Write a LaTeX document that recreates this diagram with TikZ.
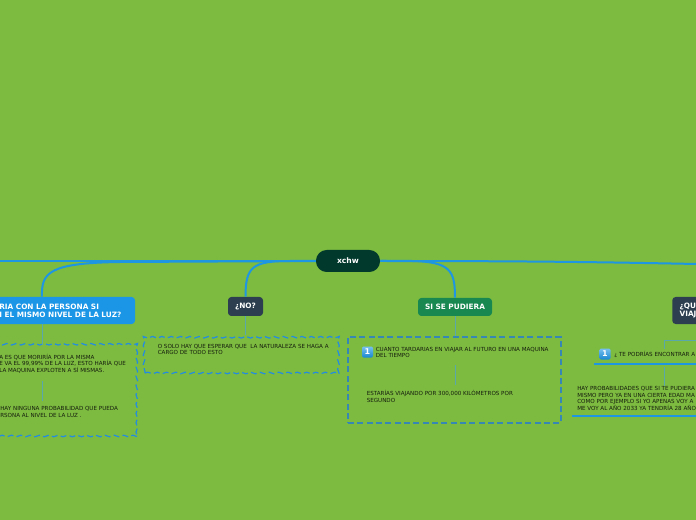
\documentclass[tikz,border=0pt]{standalone}
\usepackage{fontspec}
\setmainfont{DejaVu Sans}
\usepackage{tikz}
\usetikzlibrary{
    calc,
    decorations.pathmorphing
}
\definecolor{bgc}{RGB}{125,187,64}
\definecolor{linkc}{RGB}{30,150,225}
\definecolor{subc}{RGB}{90,168,170}
\definecolor{rootc}{RGB}{1,58,45}
\definecolor{slatec}{RGB}{44,62,80}
\definecolor{greenc}{RGB}{24,136,80}
\definecolor{bluec}{RGB}{27,150,230}
\definecolor{inkc}{RGB}{22,30,14}
\definecolor{dashc}{RGB}{35,140,225}
\definecolor{dashd}{RGB}{55,135,180}

\tikzset{
    link/.style={draw=linkc, line width=1.5pt},
    sublink/.style={draw=subc, line width=0.7pt},
    uline/.style={draw=linkc, line width=1.7pt},
    branch/.style={rectangle, rounded corners=2.5pt, text=white,
        font=\fontsize{5.5pt}{6pt}\selectfont\bfseries, inner sep=0pt},
    txt/.style={font=\fontsize{4.2pt}{4.9pt}\selectfont, text=inkc,
        align=left, inner sep=0pt, anchor=west},
    wavybox/.style={draw=dashc, line width=0.9pt, dash pattern=on 4.5pt off 2.5pt,
        decoration={snake, amplitude=0.6pt, segment length=7pt}, decorate},
    numicon/.style={rectangle, rounded corners=1pt, top color=bluec!60!white,
        bottom color=bluec!90!black, text=white, minimum size=8.25pt,
        inner sep=0pt, font=\fontsize{6pt}{6pt}\selectfont\bfseries}
}

\begin{document}
\begin{tikzpicture}[x=0.75pt, y=-0.75pt]

% Canvas
\useasboundingbox (0,0) rectangle (696,520);
\fill[bgc] (0,0) rectangle (696,520);
\clip (0,0) rectangle (696,520);

% Root
\node[rectangle, rounded corners=8pt, fill=rootc, text=white,
    minimum width=48pt, minimum height=16.5pt, inner sep=0pt,
    font=\fontsize{5.7pt}{6pt}\selectfont\bfseries] (root) at (348,261) {xchw};

% Branches
\node[branch, fill=bluec, minimum width=139.5pt, minimum height=20.25pt] (q1) at (42,310.5) {};
\node[branch, anchor=west, align=left, fill=none] (q1t) at (-1,311)
    {RIA CON LA PERSONA SI\\[0.4pt]I EL MISMO NIVEL DE LA LUZ?};
\node[branch, fill=slatec, minimum width=26.25pt, minimum height=14.25pt] (no) at (245.5,306.5) {¿NO?};
\node[branch, fill=greenc, minimum width=55.5pt, minimum height=13.5pt] (sp) at (455,307) {SI SE PUDIERA};
\node[branch, fill=slatec, anchor=west, align=left, text width=60pt,
    inner xsep=5.5pt, minimum height=20.25pt] (q4) at (672,310.5) {¿QU\\[0.4pt]VIAJ};

% Main connectors
\draw[link] (root.west) -- (0,261);
\draw[link] (root.east) .. controls (520,261) and (600,262) .. (696,264);
\draw[link] (root.west) -- (120,262) .. controls (50,263) and (41,272) .. (q1.north);
\draw[link] (root.west) -- (290,261) .. controls (252,261) and (245.5,267) .. (no.north);
\draw[link] (root.east) -- (412,261) .. controls (450,262) and (455,270) .. (sp.north);

% Detail boxes
\node[wavybox, minimum width=110.25pt, minimum height=67.5pt] (q1box) at (63.5,391) {};
\node[wavybox, minimum width=144.75pt, minimum height=27.75pt] (nobox) at (241.5,354.5) {};
\node[draw=dashd, line width=0.8pt, dash pattern=on 4.5pt off 2.5pt, minimum width=159.75pt,
    minimum height=64.5pt] (spbox) at (454.5,380) {};

% Texts of first branch
\node[txt] (q1a) at (-1,363.5) {A ES QUE MORIRÍA POR LA MISMA\\E VA EL 99,99\% DE LA LUZ, ESTO HARÍA QUE\\LA MAQUINA EXPLOTEN A SÍ MISMAS.};
\node[txt] (q1b) at (0,412) {HAY NINGUNA PROBABILIDAD QUE PUEDA\\RSONA AL NIVEL DE LA LUZ .};

% Text of second branch
\node[txt] (noa) at (157.5,349.5) {O SOLO HAY QUE ESPERAR QUE~ LA NATURALEZA SE HAGA A\\CARGO DE TODO ESTO};

% Texts of third branch
\node[numicon] (spicon) at (367.5,352) {1};
\node[txt] (sptime) at (375.5,352.5) {CUANTO TARDARIAS EN VIAJAR AL FUTURO EN UNA MAQUINA\\DEL TIEMPO};
\node[txt] (spvel) at (366.5,396.5) {ESTARÍAS VIAJANDO POR 300,000 KILÓMETROS POR\\SEGUNDO};

% Texts of fourth branch
\coordinate (q4j) at (664,340);
\node[numicon] (q4icon) at (605,354) {1};
\node[txt] (q4a) at (614,354.5) {¿ TE PODRÍAS ENCONTRAR A};
\node[txt] (q4b) at (577,398.5) {HAY PROBABILIDADES QUE SI TE PUDIERA\\MISMO PERO YA EN UNA CIERTA EDAD MA\\COMO POR EJEMPLO SI YO APENAS VOY A\\ME VOY AL AÑO 2033 YA TENDRÍA 28 AÑO};
\draw[uline] (594,364) -- (696,364);
\draw[uline] (572,416) -- (696,416);

% Sub connectors
\draw[sublink] (q1.south) -- (q1.south |- q1box.north);
\draw[sublink, shorten <=6pt, shorten >=4pt] (q1a.south -| q1.south) -- (q1b.north -| q1.south);
\draw[sublink] (no.south) -- (no.south |- nobox.north);
\draw[sublink] (sp.south) -- (sp.south |- spbox.north);
\draw[sublink, shorten <=5pt, shorten >=4pt] (sptime.south -| sp.south) -- (spvel.north -| sp.south);
\draw[sublink] (q4.south) -- (q4.south |- q4j) -- (q4j) -- ++(0,9);
\draw[sublink] (664,367) -- (q4b.north -| q4j);

\end{tikzpicture}
\end{document}
